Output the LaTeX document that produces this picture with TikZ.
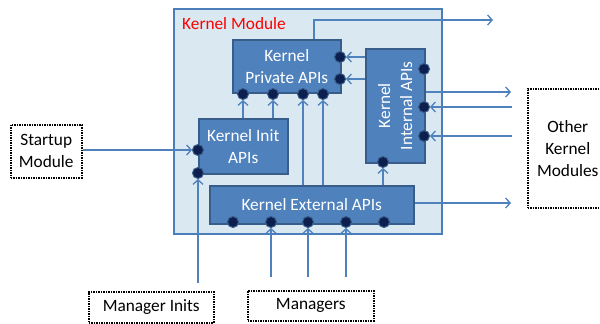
\documentclass[tikz,border=0pt]{standalone}
\usepackage{fontspec}
\setmainfont{Carlito}
\usetikzlibrary{arrows.meta}
\definecolor{modfill}{HTML}{DAE8F2}
\definecolor{modline}{HTML}{4A7EBB}
\definecolor{apifill}{HTML}{4F81BD}
\definecolor{apiline}{HTML}{385D8A}
\definecolor{portfill}{HTML}{0C1F4F}
\definecolor{wirecol}{HTML}{4F81BD}
\begin{document}
\begin{tikzpicture}[x=1pt,y=-1pt,
  lbl/.style={font=\fontsize{17.3}{22}\selectfont},
  apibox/.style={lbl, draw=apiline, line width=1.5pt, fill=apifill, text=white,
    align=center, inner sep=0pt, anchor=north west},
  extbox/.style={lbl, draw=black, densely dotted, line width=1.5pt, fill=white,
    align=center, inner sep=0pt, anchor=north west},
  port/.style={circle, fill=portfill, draw=apiline, line width=1pt,
    inner sep=0pt, minimum size=11pt},
  wire/.style={draw=wirecol, line width=1.3pt},
  arr/.style={wire, -{Straight Barb[length=4.5pt,width=10pt]}}
]
\useasboundingbox (0,0) rectangle (600,324);
\clip (0,0) rectangle (600,324);

% kernel module frame
\node[draw=modline, fill=modfill, line width=1.5pt, minimum width=268pt,
  minimum height=225pt, anchor=north west, inner sep=0pt] (kmod) at (173,8) {};
\node[lbl, text=red, anchor=west, inner sep=0pt] (kmlabel) at (182,24) {Kernel Module};

% API blocks
\node[apibox, minimum width=108pt, minimum height=53pt] (priv) at (232,39) {Kernel\\Private APIs};
\node[apibox, minimum width=59pt, minimum height=114pt] (int) at (365,48) {};
\node[lbl, text=white, align=center, rotate=90, inner sep=0pt] (intlabel) at (int.center) {Kernel\\Internal APIs};
\node[apibox, minimum width=89pt, minimum height=55pt] (init) at (198,118) {Kernel Init\\APIs};
\node[apibox, minimum width=204pt, minimum height=38pt] (ext) at (209,185) {Kernel External APIs};

% outside parties
\node[extbox, minimum width=71pt, minimum height=53pt] (startup) at (10,124) {Startup\\Module};
\node[extbox, minimum width=125pt, minimum height=31pt] (minits) at (88,291) {Manager Inits};
\node[extbox, minimum width=126pt, minimum height=30pt] (mgrs) at (247,290) {Managers};
\node[extbox, minimum width=80pt, minimum height=119pt] (other) at (527,88) {Other\\Kernel\\Modules};

% ports
\node[port] (pp1) at (340,57) {};
\node[port] (pp2) at (340,79) {};
\node[port] (pb1) at (243,94) {};
\node[port] (pb2) at (273,94) {};
\node[port] (pb3) at (303,94) {};
\node[port] (pb4) at (323,94) {};
\node[port] (ip1) at (424,69) {};
\node[port] (ip2) at (424,107) {};
\node[port] (ip3) at (424,136) {};
\node[port] (ib) at (383,162) {};
\node[port] (nl1) at (198,150) {};
\node[port] (nl2) at (198,173) {};
\node[port] (ep1) at (233,222) {};
\node[port] (ep2) at (271,222) {};
\node[port] (ep3) at (308,222) {};
\node[port] (ep4) at (346,222) {};
\node[port] (ep5) at (384,222) {};

% free wire ends
\coordinate (up) at (314,20);
\coordinate (outtop) at (493,20);
\coordinate (outint) at (511,92);
\coordinate (in1) at (512,107);
\coordinate (in2) at (512,136);
\coordinate (outext) at (511,203);
\coordinate (mi) at (198,283);
\coordinate (m2) at (271,277);
\coordinate (m3) at (308,277);
\coordinate (m4) at (346,277);

% connectors
\draw[arr] (priv.north -| up) -- (up) -- (outtop);
\draw[arr] (int.west |- pp1) -- (pp1);
\draw[arr] (int.west |- pp2) -- (pp2);
\draw[arr] (int.east |- outint) -- (outint);
\draw[arr] (in1) -- (ip2);
\draw[arr] (in2) -- (ip3);
\draw[arr] (ext.east |- outext) -- (outext);
\draw[arr] (ext.north -| ib) -- (ib);
\draw[arr] (ext.north -| pb3) -- (pb3);
\draw[arr] (ext.north -| pb4) -- (pb4);
\draw[arr] (init.north -| pb1) -- (pb1);
\draw[arr] (init.north -| pb2) -- (pb2);
\draw[arr] (startup.east |- nl1) -- (nl1);
\draw[arr] (mi) -- (nl2);
\draw[arr] (m2) -- (ep2);
\draw[arr] (m3) -- (ep3);
\draw[arr] (m4) -- (ep4);
\end{tikzpicture}
\end{document}
